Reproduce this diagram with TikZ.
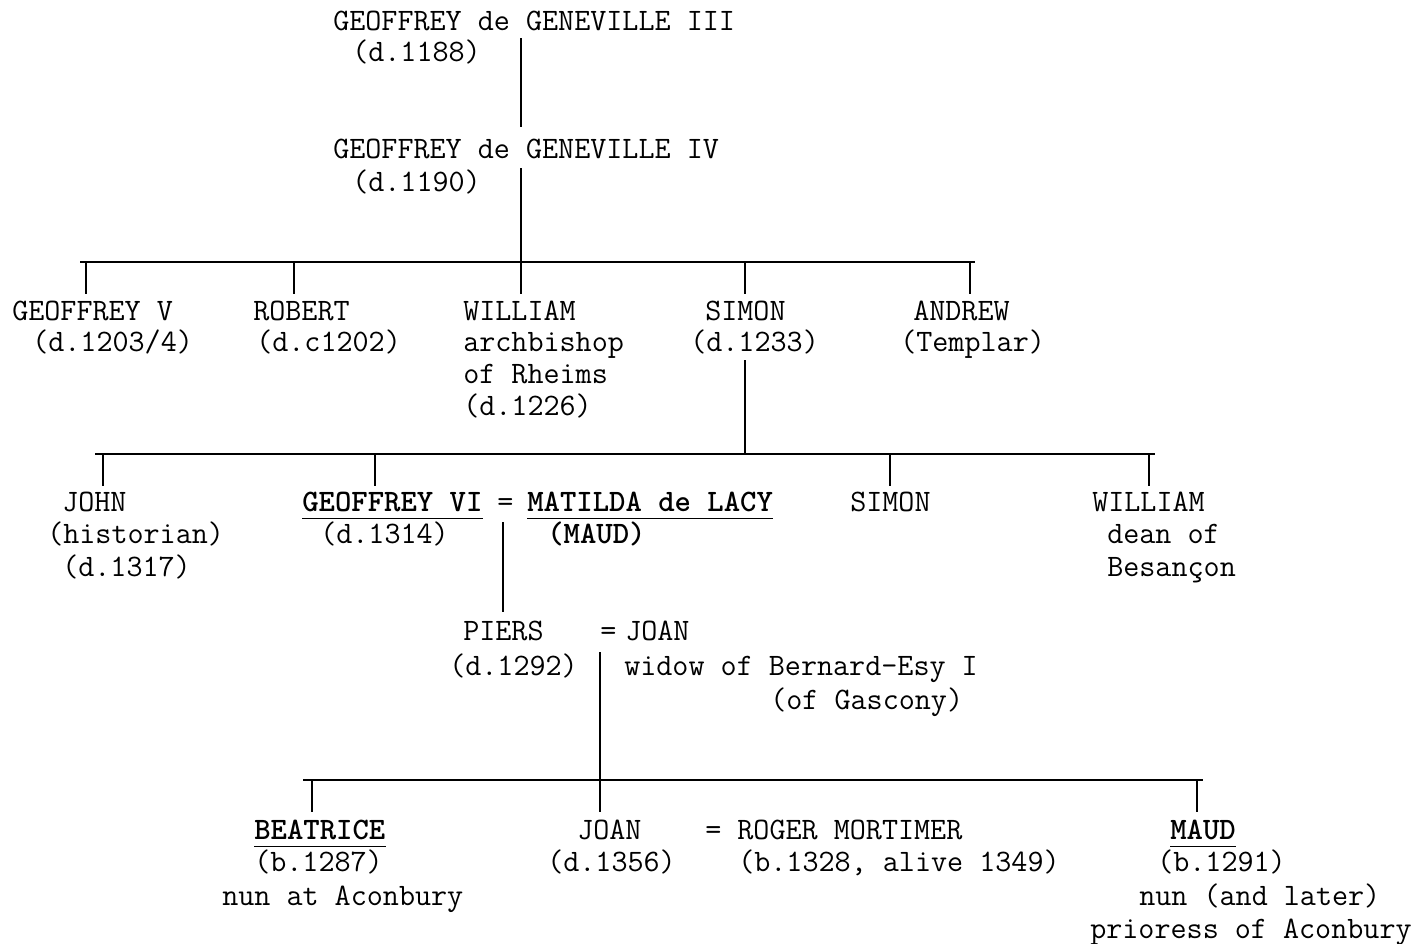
\documentclass[tikz,border=0pt]{standalone}
\begin{document}
\begin{tikzpicture}[x=0.75pt,y=-0.75pt,
  t/.style={anchor=base west,inner sep=0pt,font=\fontsize{23.4}{27}\selectfont\ttfamily},
  tb/.style={t,font=\fontsize{23.4}{27}\selectfont\ttfamily\bfseries},
  ln/.style={line width=1pt},
  ul/.style={line width=0.9pt}]
\useasboundingbox (0,0) rectangle (1420,943);

% generation 1 and 2
\node[t] (g3)  at (333,30)  {GEOFFREY de GENEVILLE III};
\node[t] (g3d) at (352,61)  {(d.1188)};
\node[t] (g4)  at (333,158) {GEOFFREY de GENEVILLE IV};
\node[t] (g4d) at (352,191) {(d.1190)};

% children of Geoffrey IV
\node[t] (gv)   at (12,320)  {GEOFFREY V};
\node[t] (gvd)  at (32,351)  {(d.1203/4)};
\node[t] (rob)  at (253,320) {ROBERT};
\node[t] (robd) at (256,351) {(d.c1202)};
\node[t] (wil)  at (463,320) {WILLIAM};
\node[t] (wil2) at (463,351) {archbishop};
\node[t] (wil3) at (463,383) {of Rheims};
\node[t] (wil4) at (463,415) {(d.1226)};
\node[t] (sim)  at (705,320) {SIMON};
\node[t] (simd) at (690,351) {(d.1233)};
\node[t] (and)  at (913,320) {ANDREW};
\node[t] (andd) at (900,351) {(Templar)};

% children of Simon
\node[t] (john)  at (62,511)  {JOHN};
\node[t] (john2) at (47,543)  {(historian)};
\node[t] (john3) at (62,576)  {(d.1317)};
\node[tb] (gvi)  at (302,511) {GEOFFREY VI};
\node[t] (eq1)   at (497,511) {=};
\node[tb] (mat)  at (527,511) {MATILDA de LACY};
\node[t] (gvid)  at (320,543) {(d.1314)};
\node[tb] (mat2) at (547,543) {(MAUD)};
\node[t] (sim2)  at (850,511) {SIMON};
\node[t] (wd)    at (1092,511) {WILLIAM};
\node[t] (wd2)   at (1107,543) {dean of};
\node[t] (wd3)   at (1107,576) {Besançon};

% Piers
\node[t] (piers)  at (463,640) {PIERS};
\node[t] (piersd) at (449,675) {(d.1292)};
\node[t] (eq2)    at (600,640) {=};
\node[t] (joan)   at (625,640) {JOAN};
\node[t] (joan2)  at (624,675) {widow of Bernard-Esy I};
\node[t] (joan3)  at (770,709) {(of Gascony)};

% children of Piers
\node[tb] (bea)   at (254,839) {BEATRICE};
\node[t] (bead)   at (254,871) {(b.1287)};
\node[t] (bea3)   at (222,905) {nun at Aconbury};
\node[t] (joanb)  at (577,839) {JOAN};
\node[t] (joanbd) at (547,871) {(d.1356)};
\node[t] (rog)    at (705,839) {= ROGER MORTIMER};
\node[t] (rogd)   at (738,871) {(b.1328, alive 1349)};
\node[tb] (maud)  at (1170,839) {MAUD};
\node[t] (maudd)  at (1157,871) {(b.1291)};
\node[t] (maud3)  at (1139,905) {nun (and later)};
\node[t] (maud4)  at (1090,938) {prioress of Aconbury};

% underlines
\foreach \n in {gvi,mat,bea,maud}
  \draw[ul] ([yshift=-5.5pt]\n.base west) -- ([yshift=-5.5pt]\n.base east);

% coordinates for connectors
\coordinate (a1) at (521,38);  \coordinate (a2) at (521,127);
\coordinate (a3) at (521,168); \coordinate (j1) at (521,262);
\coordinate (b1l) at (80,262); \coordinate (b1r) at (975,262);
\foreach \x/\n in {86/k1,294/k2,521/k3,745/k4,970/k5}{
  \coordinate (\n t) at (\x,262); \coordinate (\n b) at (\x,294);}
\coordinate (s1) at (745,360); \coordinate (j2) at (745,454);
\coordinate (b2l) at (95,454); \coordinate (b2r) at (1155,454);
\foreach \x/\n in {103/m1,375/m2,890/m3,1149/m4}{
  \coordinate (\n t) at (\x,454); \coordinate (\n b) at (\x,486);}
\coordinate (e1) at (503,522); \coordinate (e2) at (503,612);
\coordinate (p1) at (600,652); \coordinate (j3) at (600,780);
\coordinate (b3l) at (303,780); \coordinate (b3r) at (1203,780);
\foreach \x/\n in {312/q1,600/q2,1197/q3}{
  \coordinate (\n t) at (\x,780); \coordinate (\n b) at (\x,812);}

% connectors
\draw[ln] (a1) -- (a2);
\draw[ln] (a3) -- (j1);
\draw[ln] (b1l) -- (b1r);
\foreach \n in {k1,k2,k3,k4,k5} \draw[ln] (\n t) -- (\n b);
\draw[ln] (s1) -- (j2);
\draw[ln] (b2l) -- (b2r);
\foreach \n in {m1,m2,m3,m4} \draw[ln] (\n t) -- (\n b);
\draw[ln] (e1) -- (e2);
\draw[ln] (p1) -- (j3);
\draw[ln] (b3l) -- (b3r);
\foreach \n in {q1,q2,q3} \draw[ln] (\n t) -- (\n b);
\end{tikzpicture}
\end{document}
